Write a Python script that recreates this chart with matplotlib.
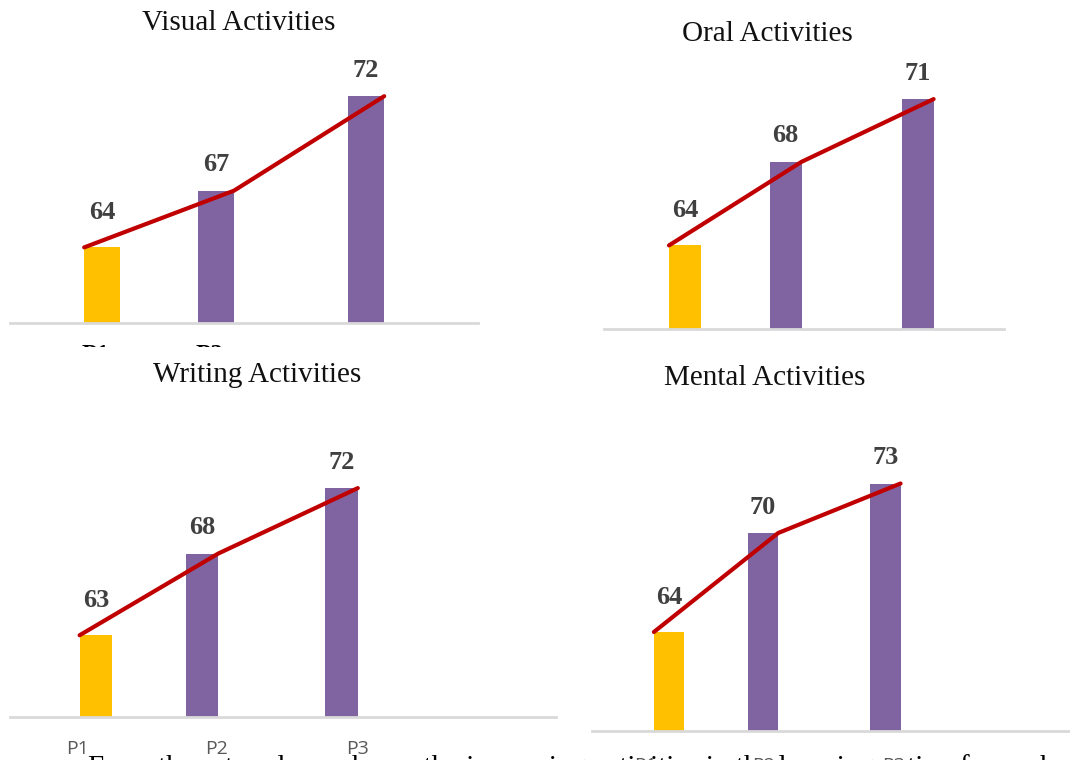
import matplotlib.pyplot as plt
from matplotlib.patches import Rectangle

# data
categories = ["P1", "P2", "P3"]
visual = [64, 67, 72]
oral = [64, 68, 71]
writing = [63, 68, 72]
mental = [64, 70, 73]

W, H = 1070, 760
fig = plt.figure(figsize=(W / 100, H / 100), dpi=100)

YELLOW = "#FFC000"
PURPLE = "#8064A2"
RED = "#C00000"
SERIF = ["Liberation Serif", "DejaVu Serif"]

# layout per panel: axes pixel box (left, right, baseline, top), y range, bar positions (axis fraction)
panels = [
    dict(title="Visual Activities", values=visual, box=(10, 478, 323, 40), ymin=60, scale=18.9,
         pos=[0.197, 0.440, 0.761], width=0.077, title_xy=(239, 23)),
    dict(title="Oral Activities", values=oral, box=(604, 1004, 329, 50), ymin=60, scale=20.9,
         pos=[0.2025, 0.454, 0.784], width=0.08, title_xy=(767, 34)),
    dict(title="Writing Activities", values=writing, box=(10, 556, 717, 420), ymin=58, scale=16.35,
         pos=[0.1575, 0.3516, 0.607], width=0.06, title_xy=(257, 375)),
    dict(title="Mental Activities", values=mental, box=(592, 1070, 731, 420), ymin=58, scale=16.5,
         pos=[0.161, 0.358, 0.614], width=0.063, title_xy=(765, 378)),
]

for p in panels:
    l, r, b, t = p["box"]
    ax = fig.add_axes([l / W, (H - b) / H, (r - l) / W, (b - t) / H])
    ax.set_xlim(0, 1)
    ax.set_ylim(p["ymin"], p["ymin"] + (b - t) / p["scale"])
    vals = p["values"]
    colors = [YELLOW, PURPLE, PURPLE]
    ax.bar(p["pos"], vals, width=p["width"], color=colors, bottom=0)
    # trend line from left edge of first bar to right edges of the others
    hw = p["width"] / 2
    lx = [p["pos"][0] - hw, p["pos"][1] + hw, p["pos"][2] + hw]
    ax.plot(lx, vals, color=RED, lw=3, solid_capstyle="round", clip_on=False, zorder=3)
    for i, (x, v) in enumerate(zip(p["pos"], vals)):
        off = 35 if i == 0 else 26
        ax.annotate(str(v), (x, v), xytext=(0, off), textcoords="offset pixels",
                    ha="center", va="center", fontsize=19, fontweight="bold",
                    color="#404040", family=SERIF)
    for s in ["top", "right", "left"]:
        ax.spines[s].set_visible(False)
    ax.spines["bottom"].set_color("#D9D9D9")
    ax.spines["bottom"].set_linewidth(2)
    ax.set_xticks([])
    ax.set_yticks([])
    ax.patch.set_alpha(0)
    tx, ty = p["title_xy"]
    fig.text(tx / W, 1 - ty / H, p["title"], ha="center", va="center",
             fontsize=21, family=SERIF, color="#111111")

# category labels under the lower charts
for x, c in zip([78, 217, 357], categories):
    fig.text(x / W, 1 - 749 / H, c, ha="center", va="center", fontsize=14,
             family=["Open Sans", "DejaVu Sans"], color="#595959")
for x, c in zip([645, 764, 893], categories):
    fig.text(x / W, 1 - 766 / H, c, ha="center", va="center", fontsize=14,
             family=["Open Sans", "DejaVu Sans"], color="#595959")

# partly hidden labels under the first chart
for x, c in zip([95, 210], categories):
    fig.text(x / W, 1 - 356 / H, c, ha="center", va="center", fontsize=18,
             fontweight="bold", family=SERIF, color="black")
fig.patches.append(Rectangle((0, 1 - 362 / H), 1, 15 / H, transform=fig.transFigure,
                             facecolor="white", edgecolor="none", zorder=5))

# clipped paragraph text at the bottom edge
fig.text(88 / W, 1 - 754 / H,
         "From these trends, we know the increasing activities in the learning action for each of the",
         ha="left", va="top", fontsize=21, family=SERIF, color="black")

fig.savefig("out.png", dpi=100)
